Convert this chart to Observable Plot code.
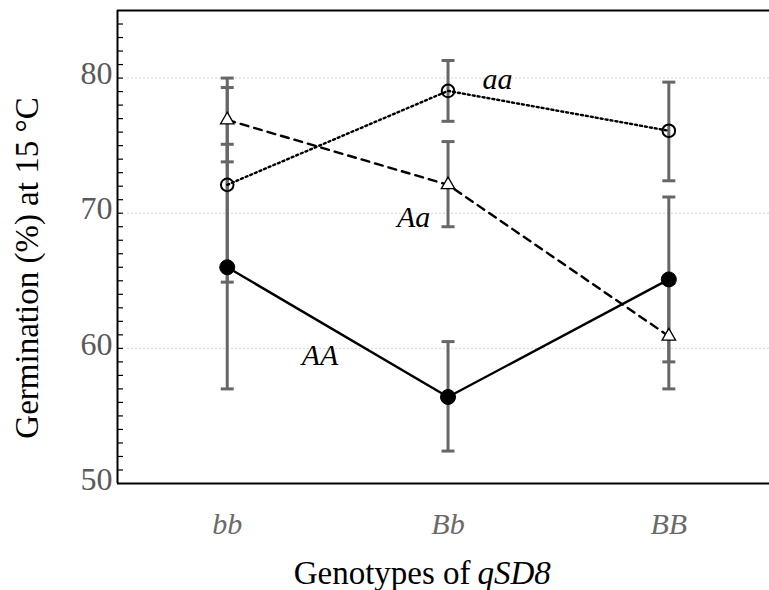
<!DOCTYPE html>
<html>
<head>
<meta charset="utf-8">
<script src="https://cdn.jsdelivr.net/npm/d3@7"></script>
<script src="https://cdn.jsdelivr.net/npm/@observablehq/plot@0.6"></script>
<style>
  html, body { margin: 0; padding: 0; background: #fff; }
  #chart svg { display: block; }
</style>
</head>
<body>
<div id="chart"></div>
<script>
// ---- data ----
const categories = ["bb", "Bb", "BB"];
const seriesNames = ["AA", "Aa", "aa"];

const AA_mean = [66.0, 56.4, 65.1];
const AA_lo   = [57.0, 52.4, 59.0];
const AA_hi   = [75.1, 60.5, 71.2];

const Aa_mean = [76.9, 72.1, 60.9];
const Aa_lo   = [73.8, 69.0, 57.0];
const Aa_hi   = [80.0, 75.3, 64.8];

const aa_mean = [72.1, 79.05, 76.1];
const aa_lo   = [64.9, 76.8, 72.4];
const aa_hi   = [79.3, 81.3, 79.7];

const yTicks = [50, 60, 70, 80];
const yGrid = [60, 70, 80];
const yMinorTicks = d3.range(51, 85);

// annotation positions (category index units, percent)
const labelX = [0.42, 0.844, 1.224];
const labelY = [59.5, 69.7, 79.9];

const xTitleMain = "Genotypes of";
const xTitleGene = "qSD8";
const yTitle = "Germination (%) at 15 °C";

// ---- build rows ----
const seriesData = {
  AA: {mean: AA_mean, lo: AA_lo, hi: AA_hi},
  Aa: {mean: Aa_mean, lo: Aa_lo, hi: Aa_hi},
  aa: {mean: aa_mean, lo: aa_lo, hi: aa_hi}
};
const rows = [];
for (const s of seriesNames) {
  categories.forEach((g, i) => rows.push({series: s, genotype: g, idx: i,
    mean: seriesData[s].mean[i], lo: seriesData[s].lo[i], hi: seriesData[s].hi[i]}));
}
const labels = seriesNames.map((s, i) => ({text: s, x: labelX[i], y: labelY[i]}));

const styles = {
  AA: {dash: null, symbol: "circle", r: 7.5, fill: "black", stroke: "black", sw: 1},
  Aa: {dash: "8,6", symbol: "triangle", r: 5, fill: "white", stroke: "black", sw: 1.3},
  aa: {dash: "2,3", symbol: "circle", r: 6.3, fill: "none", stroke: "black", sw: 2}
};

const capSymbol = {
  draw(context, size) {
    const w = Math.sqrt(size / Math.PI);
    context.moveTo(-w, 0);
    context.lineTo(w, 0);
  }
};

const errColor = "#676767";
const xDomain = [-0.497, 2.456];

const marks = [
  Plot.ruleY(yGrid, {stroke: "#d4d4d4", strokeWidth: 1, strokeDasharray: "2,2", insetLeft: 10}),
  Plot.tickY(yMinorTicks, {y: d => d, stroke: "black", strokeWidth: 1.2, insetRight: 646}),
  Plot.ruleY([50], {stroke: "black", strokeWidth: 2.2}),
  Plot.ruleY([85], {stroke: "black", strokeWidth: 2}),
  Plot.ruleX([xDomain[0]], {stroke: "black", strokeWidth: 2}),
  Plot.axisY({ticks: yTicks, tickSize: 0, tickPadding: 5, fontSize: 32, fill: "#595959", dy: -4, label: null}),
  Plot.axisX({ticks: [0, 1, 2], tickFormat: i => categories[i], tickSize: 0, tickPadding: 29,
    fontSize: 30, fontStyle: "italic", fill: "#6a6a6a", label: null}),
  // error bars
  Plot.ruleX(rows, {x: "idx", y1: "lo", y2: "hi", stroke: errColor, strokeWidth: 3}),
  Plot.dot(rows, {x: "idx", y: "lo", symbol: capSymbol, r: 6.5, stroke: errColor, strokeWidth: 3}),
  Plot.dot(rows, {x: "idx", y: "hi", symbol: capSymbol, r: 6.5, stroke: errColor, strokeWidth: 3})
];

for (const s of seriesNames) {
  const st = styles[s];
  const data = rows.filter(d => d.series === s);
  marks.push(Plot.line(data, {x: "idx", y: "mean", stroke: "black", strokeWidth: 2.4,
    strokeDasharray: st.dash}));
}
for (const s of seriesNames) {
  const st = styles[s];
  const data = rows.filter(d => d.series === s);
  marks.push(Plot.dot(data, {x: "idx", y: "mean", symbol: st.symbol, r: st.r,
    fill: st.fill === "none" ? null : st.fill, stroke: st.stroke, strokeWidth: st.sw}));
}

marks.push(
  Plot.text(labels, {x: "x", y: "y", text: "text", fontSize: 30, fontStyle: "italic", fill: "black"}),
  Plot.text([yTitle], {frameAnchor: "left", text: d => d, rotate: -90, textAnchor: "middle",
    lineAnchor: "middle", dx: -90, dy: 21, fontSize: 33, fill: "black"}),
  Plot.text([xTitleMain], {x: () => 1.102, frameAnchor: "bottom", text: d => d, textAnchor: "end",
    lineAnchor: "middle", dy: 90, fontSize: 33, fill: "black"}),
  Plot.text([xTitleGene], {x: () => 1.133, frameAnchor: "bottom", text: d => d, textAnchor: "start",
    lineAnchor: "middle", dy: 90, fontSize: 33, fontStyle: "italic", fill: "black"})
);

const chart = Plot.plot({
  width: 769,
  height: 590,
  marginLeft: 117,
  marginRight: 0,
  marginTop: 10,
  marginBottom: 107,
  style: {fontFamily: "'Liberation Serif', 'Times New Roman', serif", background: "white", overflow: "visible"},
  x: {type: "linear", domain: xDomain, axis: null},
  y: {domain: [50, 85], axis: null},
  marks
});
document.getElementById("chart").append(chart);
</script>
</body>
</html>
